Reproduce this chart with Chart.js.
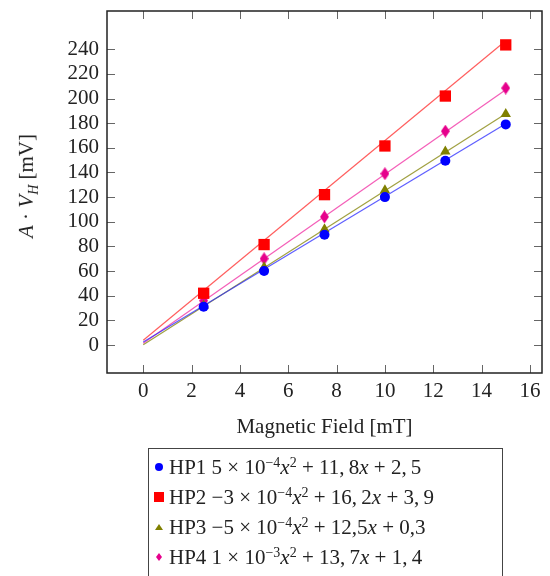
<!DOCTYPE html>
<html>
<head>
<meta charset="utf-8">
<script src="https://cdn.jsdelivr.net/npm/chart.js@4"></script>
<style>
  body { margin: 0; background: #fff; }
  .wrap { position: relative; width: 550px; height: 576px; overflow: hidden; font-family: "Liberation Serif", serif; color: #222; }
  .ytitle { position: absolute; left: 28px; top: 186px; transform: translate(-50%, -50%) rotate(-90deg); font-size: 21px; white-space: nowrap; }
  .ytitle sub { font-size: 14px; }
  .legend { position: absolute; left: 148px; top: 448px; width: 353px; height: 150px; border: 1px solid #444; font-size: 21px; }
  .legend .row { position: absolute; left: 0; height: 30px; line-height: 30px; white-space: nowrap; }
  .legend canvas { position: absolute; left: 4px; top: 9px; }
  .legend .txt { position: absolute; left: 20px; top: 0; }
  .legend sup { font-size: 14px; vertical-align: 7px; line-height: 0; }
</style>
</head>
<body>
<div class="wrap">
  <canvas id="myChart" width="550" height="576"></canvas>
  <div class="ytitle"><i>A</i> · <i>V</i><sub><i>H</i></sub> [mV]</div>
  <div class="legend" id="legend"></div>
</div>
<script>
// measured points (x in mT)
const fieldVals = [2.5, 5, 7.5, 10, 12.5, 15];
const hp1 = [31, 60, 89.5, 120, 149.5, 179];
const hp2 = [42, 81.5, 122, 161.5, 202, 243.5];
const hp3 = [32, 63, 94, 125.5, 157, 187.5];
const hp4 = [36, 70, 104, 139, 173.5, 208.5];

// fit lines, read at x = 0 and x = 15
const fitX = [0, 15];
const fit1 = [2.5, 179.6];
const fit2 = [3.9, 246.9];
const fit3 = [0.3, 187.7];
const fit4 = [1.4, 207.2];

const names = ['HP1', 'HP2', 'HP3', 'HP4'];
const equations = [
  '5 × 10<sup>−4</sup><i>x</i><sup>2</sup> + 11,&#8201;8<i>x</i> + 2,&#8201;5',
  '−3 × 10<sup>−4</sup><i>x</i><sup>2</sup> + 16,&#8201;2<i>x</i> + 3,&#8201;9',
  '−5 × 10<sup>−4</sup><i>x</i><sup>2</sup> + 12,5<i>x</i> + 0,3',
  '1 × 10<sup>−3</sup><i>x</i><sup>2</sup> + 13,&#8201;7<i>x</i> + 1,&#8201;4'
];

const xTicks = [0, 2, 4, 6, 8, 10, 12, 14, 16];
const yTicks = [0, 20, 40, 60, 80, 100, 120, 140, 160, 180, 200, 220, 240];

const colors = ['#0000ff', '#ff0000', '#808000', '#e6008c'];
const lineColors = ['rgba(40,40,255,0.75)', 'rgba(255,40,40,0.75)', 'rgba(128,128,0,0.75)', 'rgba(240,40,160,0.75)'];

// diamond marker (pgfplots diamond* is taller than wide)
function diamond(w, h, color) {
  const c = document.createElement('canvas');
  c.width = w; c.height = h;
  const g = c.getContext('2d');
  g.fillStyle = color;
  g.beginPath();
  g.moveTo(w / 2, 0); g.lineTo(w, h / 2); g.lineTo(w / 2, h); g.lineTo(0, h / 2);
  g.closePath(); g.fill();
  return c;
}

function pts(xs, ys) { return xs.map((v, i) => ({x: v, y: ys[i]})); }

const series = [hp1, hp2, hp3, hp4];
const fits = [fit1, fit2, fit3, fit4];
const styles = ['circle', 'rect', 'triangle', diamond(9, 13, colors[3])];
const radii = [5, 8, 6, 6];

let datasets = [];
for (let i = 0; i < 4; i++) {
  datasets.push({
    label: names[i] + ' fit',
    type: 'line',
    data: pts(fitX, fits[i]),
    borderColor: lineColors[i],
    borderWidth: 1.2,
    pointRadius: 0,
    fill: false,
    order: 2
  });
}
for (let i = 0; i < 4; i++) {
  datasets.push({
    label: names[i],
    data: pts(fieldVals, series[i]),
    backgroundColor: colors[i],
    borderColor: colors[i],
    borderWidth: 0,
    pointStyle: styles[i],
    pointRadius: radii[i],
    showLine: false,
    order: 1
  });
}

const frameTicks = {
  id: 'frameTicks',
  afterDraw(chart) {
    const ctx = chart.ctx, a = chart.chartArea, x = chart.scales.x, y = chart.scales.y;
    ctx.save();
    ctx.strokeStyle = '#666';
    ctx.lineWidth = 1;
    ctx.beginPath();
    xTicks.forEach(v => {
      const px = Math.round(x.getPixelForValue(v)) + 0.5;
      ctx.moveTo(px, a.bottom); ctx.lineTo(px, a.bottom - 8);
      ctx.moveTo(px, a.top); ctx.lineTo(px, a.top + 8);
    });
    yTicks.forEach(v => {
      const py = Math.round(y.getPixelForValue(v)) + 0.5;
      ctx.moveTo(a.left, py); ctx.lineTo(a.left + 8, py);
      ctx.moveTo(a.right, py); ctx.lineTo(a.right - 8, py);
    });
    ctx.stroke();
    ctx.strokeStyle = '#222';
    ctx.lineWidth = 1.5;
    ctx.strokeRect(a.left, a.top, a.width, a.height);
    ctx.restore();
  }
};

const font = {family: '"Liberation Serif", serif', size: 21};

var ctx = document.getElementById('myChart');
var myChart = new Chart(ctx, {
  type: 'scatter',
  data: {datasets: datasets},
  options: {
    responsive: false,
    animation: false,
    layout: {padding: {left: 0, top: 11, right: 4, bottom: 136}},
    plugins: {legend: {display: false}, tooltip: {enabled: false}},
    scales: {
      x: {
        type: 'linear', min: -1.5, max: 16.5,
        afterBuildTicks: s => { s.ticks = xTicks.map(v => ({value: v})); },
        afterFit: s => { s.height = 67; s.paddingLeft = 0; s.paddingRight = 0; },
        grid: {display: false, drawTicks: false},
        border: {display: false},
        ticks: {color: '#222', font: font, padding: 6},
        title: {display: true, text: 'Magnetic Field [mT]', color: '#222', font: font, padding: 0}
      },
      y: {
        type: 'linear', min: -22.7, max: 271,
        afterBuildTicks: s => { s.ticks = yTicks.map(v => ({value: v})); },
        afterFit: s => { s.width = 107; s.paddingTop = 0; s.paddingBottom = 0; },
        grid: {display: false, drawTicks: false},
        border: {display: false},
        ticks: {color: '#222', font: font, padding: 8}
      }
    }
  },
  plugins: [frameTicks]
});

// legend built from the same datasets
const legend = document.getElementById('legend');
const legendMarks = [
  (g) => { g.beginPath(); g.arc(6, 6, 4, 0, 2 * Math.PI); g.fill(); },
  (g) => { g.fillRect(1, 1, 10, 10); },
  (g) => { g.beginPath(); g.moveTo(6, 3); g.lineTo(10, 9); g.lineTo(2, 9); g.closePath(); g.fill(); },
  (g) => { g.beginPath(); g.moveTo(6, 2); g.lineTo(9, 6); g.lineTo(6, 10); g.lineTo(3, 6); g.closePath(); g.fill(); }
];
for (let i = 0; i < 4; i++) {
  const row = document.createElement('div');
  row.className = 'row';
  row.style.top = (3 + i * 30) + 'px';
  const c = document.createElement('canvas');
  c.width = 12; c.height = 12;
  const g = c.getContext('2d');
  g.fillStyle = colors[i];
  legendMarks[i](g);
  row.appendChild(c);
  const t = document.createElement('span');
  t.className = 'txt';
  t.innerHTML = names[i] + ' ' + equations[i];
  row.appendChild(t);
  legend.appendChild(row);
}
</script>
</body>
</html>
